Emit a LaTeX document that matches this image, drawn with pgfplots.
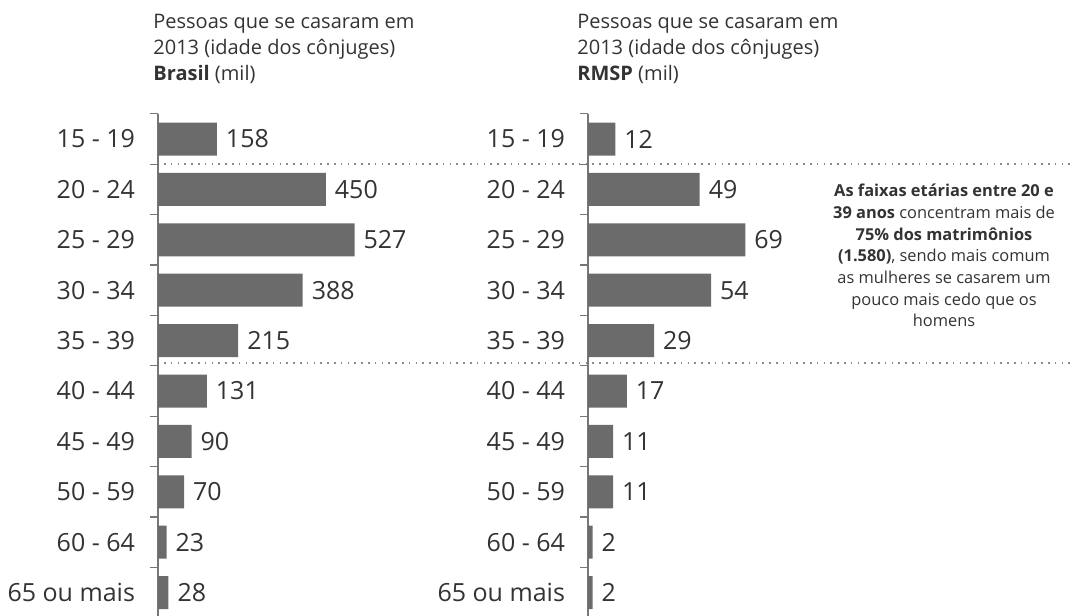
\documentclass[border=0pt]{standalone}
\usepackage{fontspec}
\setmainfont{Open Sans}
\usepackage{pgfplots}
\pgfplotsset{compat=1.18}
\definecolor{barc}{HTML}{6B6B6B}
\definecolor{txt}{HTML}{333333}
\definecolor{axc}{HTML}{777777}
\definecolor{dotc}{HTML}{8A8A8A}

\pgfplotstableread{
y v
0 158
1 450
2 527
3 388
4 215
5 131
6 90
7 70
8 23
9 28
}\brasil
\pgfplotstableread{
y v
0 12
1 49
2 69
3 54
4 29
5 17
6 11
7 11
8 2
9 2
}\rmsp

\pgfplotsset{
  mybar/.style={
    xbar, y dir=reverse, scale only axis,
    height=252pt, ymin=-0.5, ymax=9.5, xmin=0,
    enlargelimits=false,
    axis y line=left, axis x line=none, xtick=\empty,
    ytick={0,...,9},
    yticklabels={15 - 19, 20 - 24, 25 - 29, 30 - 34, 35 - 39, 40 - 44, 45 - 49, 50 - 59, 60 - 64, 65 ou mais},
    major tick length=0pt,
    minor ytick={-0.5,0.5,...,8.5}, minor tick length=4pt,
    tick align=outside,
    every tick/.style={draw=axc, line width=0.6pt},
    y axis line style={-, draw=axc, line width=0.7pt},
    bar width=16.5pt,
    /pgf/number format/assume math mode=true,
    yticklabel style={font=\fontsize{12.5}{12.5}\selectfont, text=txt, xshift=-8pt},
    nodes near coords,
    nodes near coords style={font=\fontsize{12.5}{12.5}\selectfont, text=txt, anchor=west, xshift=1pt},
    clip=false,
    anchor=north west,
  }
}

\begin{document}
\begin{tikzpicture}
\useasboundingbox (0,0) rectangle (536pt,308pt);

% left: Brasil
\begin{axis}[mybar, at={(79pt,251.1pt)}, width=111.9pt, xmax=600]
  \draw[dotc, line width=0.8pt, dash pattern=on 0.8pt off 2.6pt] ([xshift=3pt]axis cs:0,0.5) -- ++(456pt,0pt);
  \draw[dotc, line width=0.8pt, dash pattern=on 0.8pt off 2.6pt] ([xshift=3pt]axis cs:0,4.45) -- ++(456pt,0pt);
  \addplot[fill=barc, draw=none] table[x=v, y=y] {\brasil};
\end{axis}

% right: RMSP
\begin{axis}[mybar, at={(294pt,251.1pt)}, width=114pt, xmax=100]
  \addplot[fill=barc, draw=none] table[x=v, y=y] {\rmsp};
\end{axis}

% titles
\begin{scope}[every node/.style={text=txt, inner sep=0pt, font=\fontsize{10}{13}\selectfont}]
\node[anchor=base west] at (76.5pt,293.85pt) {Pessoas que se casaram em};
\node[anchor=base west] at (76.5pt,280.85pt) {2013 (idade dos cônjuges)};
\node[anchor=base west] at (76.5pt,267.85pt) {\textbf{Brasil} (mil)};
\node[anchor=base west] at (288.5pt,293.85pt) {Pessoas que se casaram em};
\node[anchor=base west] at (288.5pt,280.85pt) {2013 (idade dos cônjuges)};
\node[anchor=base west] at (288.5pt,267.85pt) {\textbf{RMSP} (mil)};
\end{scope}

% annotation
\begin{scope}[every node/.style={text=txt, inner sep=0pt, anchor=base, font=\fontsize{8.2}{10.85}\selectfont}]
\node at (472pt,209.65pt) {\textbf{As faixas etárias entre 20 e}};
\node at (472pt,198.8pt) {\textbf{39 anos} concentram mais de};
\node at (472pt,187.95pt) {\textbf{75\% dos matrimônios}};
\node at (472pt,177.1pt) {\textbf{(1.580)}, sendo mais comum};
\node at (472pt,166.25pt) {as mulheres se casarem um};
\node at (472pt,155.4pt) {pouco mais cedo que os};
\node at (472pt,144.55pt) {homens};
\end{scope}
\end{tikzpicture}
\end{document}
